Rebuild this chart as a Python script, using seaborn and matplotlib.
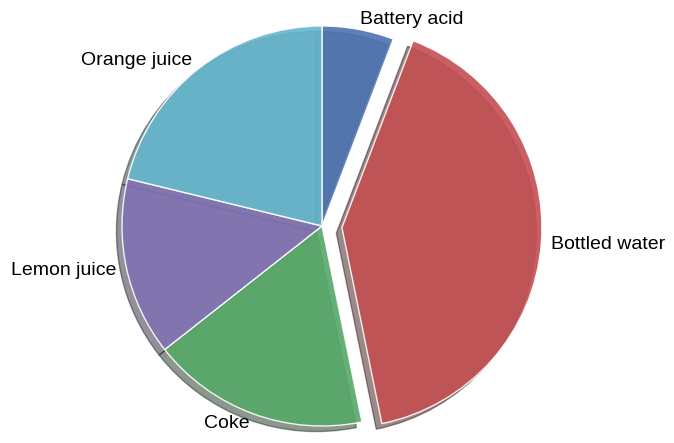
import matplotlib
matplotlib.use("Agg")
import matplotlib.pyplot as plt
import seaborn as sns

labels = ["Battery acid", "Bottled water", "Coke", "Lemon juice", "Orange juice"]
sizes = [5.8, 41.0, 17.6, 14.4, 21.2]
explode = [0, 0.1, 0, 0, 0]

sns.set_theme(style="white")
plt.rcParams['font.family'] = ['Liberation Sans', 'DejaVu Sans']

colors = ["#4C72B0", "#C44E52", "#55A868", "#8172B2", "#64B5CD"]

fig = plt.figure(figsize=(6.74, 4.43), dpi=100)
ax = fig.add_axes([0, 0, 1, 1])
ax.pie(sizes, labels=labels, explode=explode, colors=colors, startangle=90,
       counterclock=False, shadow=True, labeldistance=1.05,
       wedgeprops=dict(edgecolor="white", linewidth=1, alpha=0.9),
       textprops=dict(fontsize=14, color="black"))
ax.set_aspect("auto")
ax.set_xlim(-1.61, 1.76)
ax.set_ylim(-1.085, 1.13)
ax.axis("off")
fig.savefig("out.png", dpi=100)
